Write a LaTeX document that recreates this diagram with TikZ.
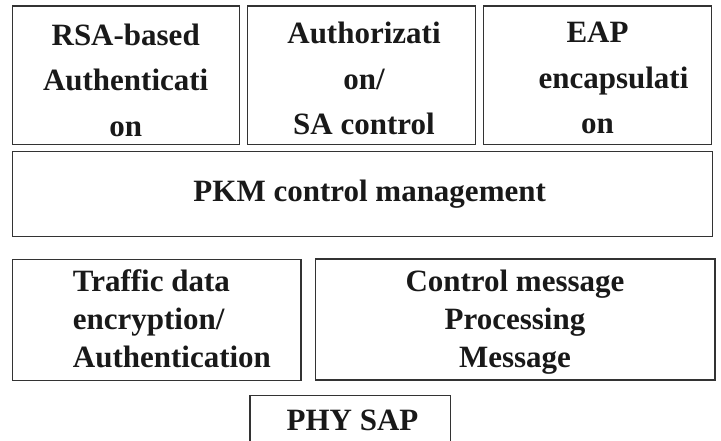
\documentclass[tikz,border=0pt]{standalone}
\usepackage{fontspec}
\setmainfont{Liberation Serif}
\begin{document}
\begin{tikzpicture}[x=1pt,y=-1pt,
  layer/.style={draw=black!80, line width=1.2pt, inner sep=0pt, outer sep=0pt},
  lbl/.style={anchor=base, inner sep=0pt, text=black!90,
    font=\bfseries\fontsize{31}{45.5}\selectfont},
  lblb/.style={lbl, font=\bfseries\fontsize{31}{38}\selectfont}]
\useasboundingbox (0,0) rectangle (721,441);

% top row of layer boxes
\node[layer, minimum width=226.8pt, minimum height=138.3pt] (rsa)  at (126.1,75.15) {};
\node[layer, minimum width=228.4pt, minimum height=138.3pt] (auth) at (361.5,75.15) {};
\node[layer, minimum width=228.4pt, minimum height=138.3pt] (eap)  at (597.5,75.15) {};

% PKM control layer
\node[layer, minimum width=699.6pt, minimum height=85pt] (pkm) at (362.5,194.2) {};

% second row
\node[layer, minimum width=288.3pt, minimum height=121.2pt] (tde)  at (156.85,319.9) {};
\node[layer, minimum width=399.5pt, minimum height=121pt]   (cmp)  at (515.25,319.5) {};

% PHY service access point, running off the bottom edge
\node[layer, minimum width=200.7pt, minimum height=60pt, anchor=north] (phy) at (350.35,395.7) {};

% labels
\node[lbl] (rsaT) at (125.7,45.5)
  {\begin{tabular}[t]{@{}c@{}}RSA-based\\Authenticati\\on\end{tabular}};
\node[lbl] (authT) at (364,44)
  {\begin{tabular}[t]{@{}c@{}}Authorizati\\on/\\SA control\end{tabular}};
\node[lbl] (eapT) at (597.5,43)
  {\begin{tabular}[t]{@{}c@{}}EAP\\\hspace*{32pt}encapsulati\\on\end{tabular}};
\node[lbl] (pkmT) at (369.7,201.7) {PKM control management};
\node[lblb, anchor=base west] (tdeT) at (72.7,291.7)
  {\begin{tabular}[t]{@{}l@{}}Traffic data\\encryption/\\Authentication\end{tabular}};
\node[lblb] (cmpT) at (515,291.7)
  {\begin{tabular}[t]{@{}c@{}}Control message\\Processing\\Message\end{tabular}};
\node[lbl] (phyT) at (352.5,430) {PHY SAP};
\end{tikzpicture}
\end{document}
